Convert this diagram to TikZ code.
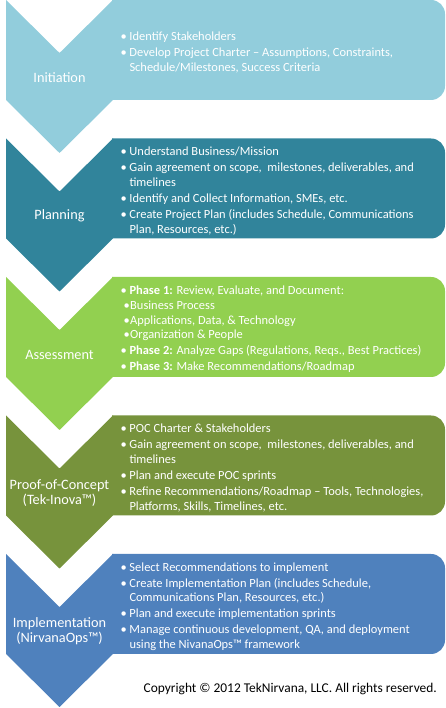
\documentclass[tikz,border=0pt]{standalone}
\usepackage{fontspec}
\setmainfont{Carlito}
\definecolor{cInit}{HTML}{92CDDC}
\definecolor{cPlan}{HTML}{31849B}
\definecolor{cAssess}{HTML}{92D050}
\definecolor{cPoc}{HTML}{77933C}
\definecolor{cImpl}{HTML}{4F81BD}
\newcommand\bi{\makebox[9pt][l]{•}}
\newcommand\ci{\hspace*{9pt}}
\newcommand\si{\hspace*{3.1pt}\makebox[6.6pt][l]{•}}
\newcommand\phaseshape[2]{%
  \pgfmathsetmacro\Yt{708-#1}%
  \fill[#2] (6,\Yt) -- (59.5,\Yt-53) -- (113,\Yt) -- (113,\Yt-100) -- (59.5,\Yt-153) -- (6,\Yt-100) -- cycle;
  \fill[#2] (112,\Yt) -- (431,\Yt) arc[start angle=90,end angle=0,radius=14] -- (445,\Yt-86) arc[start angle=0,end angle=-90,radius=14] -- (112,\Yt-100) -- cycle;
}
\begin{document}
\begin{tikzpicture}[x=1pt,y=1pt,
  phaselabel/.style={text=white,font=\fontsize{14.3}{15}\selectfont,align=center,inner sep=0pt},
  phaselist/.style={text=white,font=\fontsize{12.45}{14.6}\selectfont,align=left,inner sep=0pt,anchor=west},
  copyr/.style={text=black,font=\fontsize{13.4}{15}\selectfont,inner sep=0pt,anchor=base east}]
\useasboundingbox (0,0) rectangle (445,708);
% Initiation
\phaseshape{0}{cInit}
\node[phaselabel] (l1) at (59.5,708-77.5) {Initiation};
\node[phaselist] (t1) at (120.3,708-52.5) {\bi Identify Stakeholders\\[1.5pt]
\bi Develop Project Charter – Assumptions, Constraints,\\
\ci Schedule/Milestones, Success Criteria};
% Planning
\phaseshape{138.5}{cPlan}
\node[phaselabel] (l2) at (59.5,708-138.5-77.5) {Planning};
\node[phaselist] (t2) at (120.3,708-138.5-52.5) {\bi Understand Business/Mission\\[1.5pt]
\bi Gain agreement on scope,\ \ milestones, deliverables, and\\
\ci timelines\\[1.5pt]
\bi Identify and Collect Information, SMEs, etc.\\[1.5pt]
\bi Create Project Plan (includes Schedule, Communications\\
\ci Plan, Resources, etc.)};
% Assessment
\phaseshape{277}{cAssess}
\node[phaselabel] (l3) at (59.5,708-277-77.5) {Assessment};
\node[phaselist] (t3) at (120.3,708-277-52.5) {\bi\textbf{Phase 1:} Review, Evaluate, and Document:\\
\si Business Process\\
\si Applications, Data, \& Technology\\
\si Organization \& People\\[1.5pt]
\bi\textbf{Phase 2:} Analyze Gaps (Regulations, Reqs., Best Practices)\\[1.5pt]
\bi\textbf{Phase 3:} Make Recommendations/Roadmap};
% Proof-of-Concept
\phaseshape{415.5}{cPoc}
\node[phaselabel] (l4) at (59.5,708-415.5-77.5) {Proof-of-Concept\\(Tek-Inova™)};
\node[phaselist] (t4) at (120.3,708-415.5-52.5) {\bi POC Charter \& Stakeholders\\[1.5pt]
\bi Gain agreement on scope,\ \ milestones, deliverables, and\\
\ci timelines\\[1.5pt]
\bi Plan and execute POC sprints\\[1.5pt]
\bi Refine Recommendations/Roadmap – Tools, Technologies,\\
\ci Platforms, Skills, Timelines, etc.};
% Implementation
\phaseshape{554}{cImpl}
\node[phaselabel] (l5) at (59.5,708-554-77.5) {Implementation\\(NirvanaOps™)};
\node[phaselist] (t5) at (120.3,708-554-52.5) {\bi Select Recommendations to implement\\[1.5pt]
\bi Create Implementation Plan (includes Schedule,\\
\ci Communications Plan, Resources, etc.)\\[1.5pt]
\bi Plan and execute implementation sprints\\[1.5pt]
\bi Manage continuous development, QA, and deployment\\
\ci using the NivanaOps™ framework};
% Copyright
\node[copyr] (cr) at (437,15.3) {Copyright © 2012 TekNirvana, LLC. All rights reserved.};
\end{tikzpicture}
\end{document}
